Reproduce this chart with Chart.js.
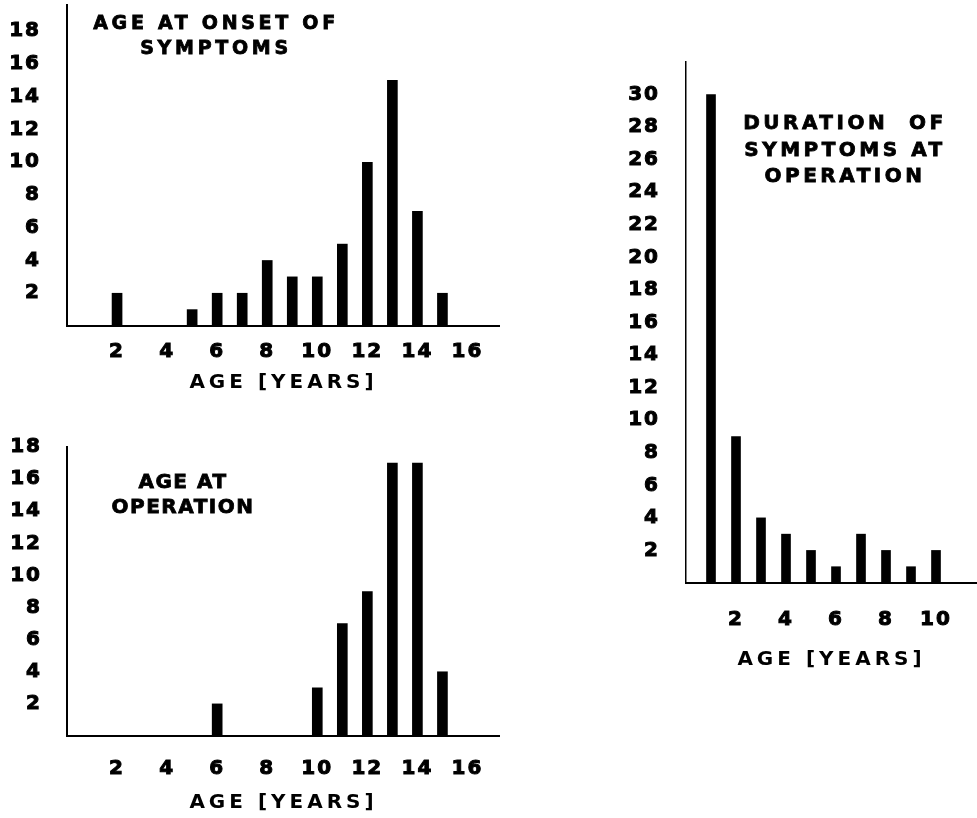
<!DOCTYPE html>
<html>
<head>
<meta charset="utf-8">
<script src="https://cdn.jsdelivr.net/npm/chart.js@4.4.1/dist/chart.umd.min.js"></script>
<style>
  body { margin: 0; background: #fff; }
  #page { position: relative; width: 977px; height: 818px; overflow: hidden; background: #fff; }
  canvas { position: absolute; }
  .note {
    position: absolute;
    font-family: 'DejaVu Sans', sans-serif;
    font-weight: bold;
    color: #000;
    text-align: center;
    white-space: nowrap;
    -webkit-text-stroke: 0.8px #000;
  }
</style>
</head>
<body>
<div id="page">
  <canvas id="onsetChart" width="500" height="400" style="left:0;top:0"></canvas>
  <canvas id="operationChart" width="500" height="398" style="left:0;top:420px"></canvas>
  <canvas id="durationChart" width="377" height="640" style="left:600px;top:40px"></canvas>

  <div class="note" style="left:66px;top:10px;width:300px;font-size:19px;line-height:25px;letter-spacing:3.7px">AGE AT ONSET OF<br>SYMPTOMS</div>
  <div class="note" style="left:33px;top:469px;width:300px;font-size:20px;line-height:25px;letter-spacing:1.5px">AGE AT<br>OPERATION</div>
  <div class="note" style="left:715px;top:109px;width:260px;font-size:20px;line-height:26.5px;letter-spacing:3.5px">DURATION&nbsp; OF<br>SYMPTOMS AT<br>OPERATION</div>
</div>

<script>
// Age at onset of symptoms
const onsetAges = [2, 5, 6, 7, 8, 9, 10, 11, 12, 13, 14, 15];
const onsetCounts = [2, 1, 2, 2, 4, 3, 3, 5, 10, 15, 7, 2];

// Age at operation
const operationAges = [6, 10, 11, 12, 13, 14, 15];
const operationCounts = [2, 3, 7, 9, 17, 17, 4];

// Duration of symptoms at operation
const durationYears = [1, 2, 3, 4, 5, 6, 7, 8, 9, 10];
const durationCounts = [30, 9, 4, 3, 2, 1, 3, 2, 1, 2];

// Tick labels
const ageTicks = [2, 4, 6, 8, 10, 12, 14, 16];
const durationTicks = [2, 4, 6, 8, 10];
const countTicks18 = [2, 4, 6, 8, 10, 12, 14, 16, 18];
const countTicks30 = [2, 4, 6, 8, 10, 12, 14, 16, 18, 20, 22, 24, 26, 28, 30];

Chart.defaults.color = '#000';
Chart.defaults.font.family = "'DejaVu Sans', sans-serif";
Chart.defaults.font.weight = 'bold';

// wide lettering for the axis titles, tighter for the tick numbers
// (tick labels sit on z=1 so they are drawn after the bars)
const spacingPlugin = {
  id: 'spacing',
  beforeDraw(chart) {
    chart.ctx.letterSpacing = '4px';
  },
  afterDatasetsDraw(chart) {
    chart.ctx.letterSpacing = '2px';
  }
};

function renderHistogram(canvasId, xs, ys, cfg) {
  const ctx = document.getElementById(canvasId).getContext('2d');
  return new Chart(ctx, {
    type: 'bar',
    data: {
      datasets: [{
        data: xs.map((x, i) => ({ x: x, y: ys[i] })),
        backgroundColor: '#000',
        borderWidth: 0,
        barThickness: cfg.bar
      }]
    },
    plugins: [spacingPlugin],
    options: {
      responsive: false,
      animation: false,
      devicePixelRatio: 1,
      layout: { padding: { top: cfg.padTop, right: 0, bottom: 0, left: 0 } },
      plugins: { legend: { display: false }, tooltip: { enabled: false } },
      scales: {
        x: {
          type: 'linear',
          offset: false,
          min: 0,
          max: cfg.xMax,
          grid: { display: false, drawTicks: false },
          border: { display: true, color: '#000', width: 2 },
          ticks: { z: 1, padding: cfg.xPad, font: { size: 20 }, textStrokeColor: '#000', textStrokeWidth: 1 },
          afterBuildTicks: (scale) => { scale.ticks = cfg.xTicks.map(v => ({ value: v })); },
          afterFit: (scale) => {
            scale.height = cfg.xHeight;
            scale.paddingLeft = 0;
            scale.paddingRight = 0;
          },
          title: {
            display: true,
            text: 'AGE [YEARS]',
            font: { size: 20 },
            padding: { top: 0, bottom: cfg.titlePad }
          }
        },
        y: {
          type: 'linear',
          min: 0,
          max: cfg.yMax,
          grid: { display: false, drawTicks: false },
          border: { display: true, color: '#000', width: cfg.yLine },
          ticks: { z: 1, padding: cfg.yPad, font: { size: 20 }, textStrokeColor: '#000', textStrokeWidth: 1 },
          afterBuildTicks: (scale) => { scale.ticks = cfg.yTicks.map(v => ({ value: v })); },
          afterFit: (scale) => {
            scale.width = cfg.yWidth;
            scale.paddingTop = 0;
            scale.paddingBottom = 0;
          }
        }
      }
    }
  });
}

renderHistogram('onsetChart', onsetAges, onsetCounts, {
  padTop: 5, xMax: 17.3, yMax: 19.6, xHeight: 74, yWidth: 67,
  xPad: 14, yPad: 26, titlePad: 5, yLine: 2, bar: 10,
  xTicks: ageTicks, yTicks: countTicks18
});

renderHistogram('operationChart', operationAges, operationCounts, {
  padTop: 27, xMax: 17.3, yMax: 18, xHeight: 82, yWidth: 67,
  xPad: 21, yPad: 25, titlePad: 3, yLine: 2, bar: 10,
  xTicks: ageTicks, yTicks: countTicks18
});

renderHistogram('durationChart', durationYears, durationCounts, {
  padTop: 22, xMax: 11.64, yMax: 32, xHeight: 97, yWidth: 86,
  xPad: 25, yPad: 26, titlePad: 8, yLine: 1.5, bar: 9,
  xTicks: durationTicks, yTicks: countTicks30
});
</script>
</body>
</html>
